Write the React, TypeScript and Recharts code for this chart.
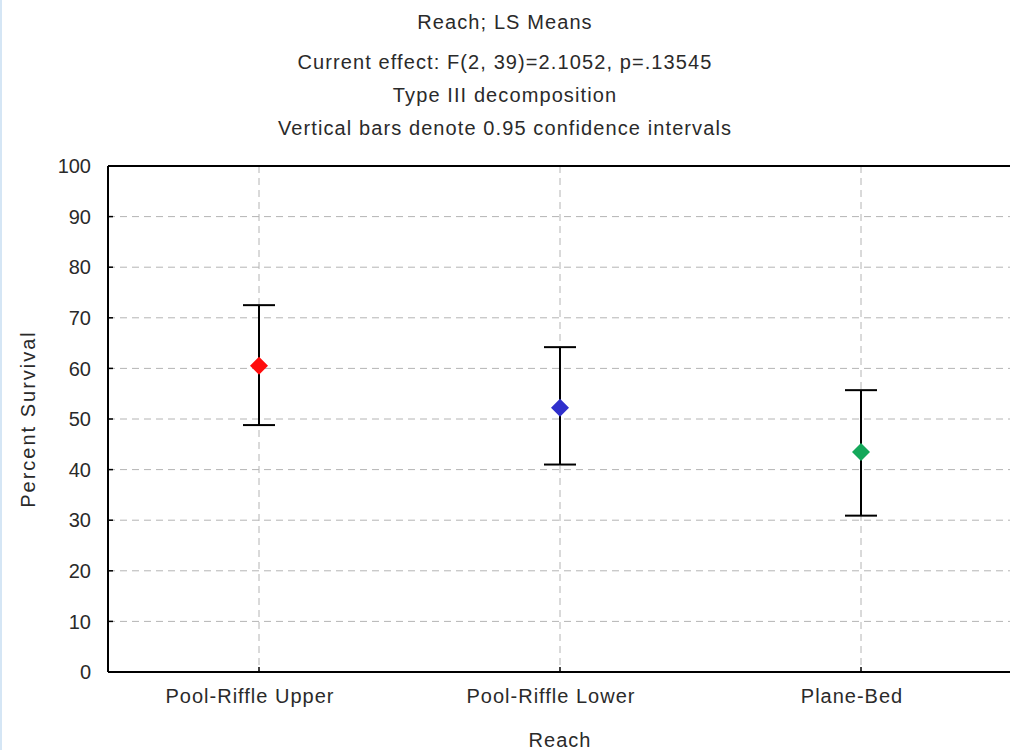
import { ComposedChart, Line, XAxis, YAxis, CartesianGrid, ErrorBar, ReferenceLine } from 'recharts';

const reaches = ['Pool-Riffle Upper', 'Pool-Riffle Lower', 'Plane-Bed'];
const means = [60.5, 52.2, 43.5];
const lowerCI = [48.8, 41.0, 30.9];
const upperCI = [72.5, 64.2, 55.7];
const yTicks = [0, 10, 20, 30, 40, 50, 60, 70, 80, 90, 100];
const titleLines = [
  'Reach; LS Means',
  'Current effect: F(2, 39)=2.1052, p=.13545',
  'Type III decomposition',
  'Vertical bars denote 0.95 confidence intervals',
];
const markerColors = ['#ff0d0d', '#2f2fcc', '#14a85a'];

const data = reaches.map((reach, i) => ({
  reach,
  mean: means[i],
  ci: [means[i] - lowerCI[i], upperCI[i] - means[i]],
}));

const font = '"Liberation Sans", Arial, sans-serif';
const titleTops = [11, 51, 84, 117];
const textColor = '#2a2a2a';

// diamond marker, coloured per reach
const Diamond = (props: any) => {
  const { cx, cy, index } = props;
  const r = 9;
  return (
    <path
      key={`d-${index}`}
      d={`M${cx},${cy - r}L${cx + r},${cy}L${cx},${cy + r}L${cx - r},${cy}Z`}
      fill={markerColors[index]}
    />
  );
};

export default function App() {
  return (
    <div
      style={{
        position: 'fixed',
        left: 0,
        top: 0,
        width: 1010,
        height: 750,
        overflow: 'hidden',
        background: '#fff',
        fontFamily: font,
      }}
    >
      <div style={{ position: 'absolute', left: 0, top: 0, width: 2, height: 750, background: '#d5e6f5' }} />
      {titleLines.map((t, i) => (
        <div
          key={t}
          style={{
            position: 'absolute',
            left: 0,
            width: 1010,
            top: titleTops[i],
            textAlign: 'center',
            fontSize: 20,
            lineHeight: '23px',
            letterSpacing: 1.1,
            color: textColor,
          }}
        >
          {t}
        </div>
      ))}
      <ComposedChart
        width={1030}
        height={750}
        data={data}
        margin={{ top: 166, right: 0, bottom: 0, left: 0 }}
        style={{ fontFamily: font }}
      >
        <CartesianGrid stroke="#b4b4b4" strokeDasharray="7 5" />
        <XAxis
          dataKey="reach"
          type="category"
          height={78}
          padding={{ left: 151, right: 151 }}
          axisLine={{ stroke: '#000', strokeWidth: 2 }}
          tickLine={{ stroke: '#000', strokeWidth: 1.5 }}
          tickSize={-5}
          tickMargin={22}
          tick={{ fill: textColor, fontSize: 20, letterSpacing: 1, dx: -9 }}
          label={{ value: 'Reach', position: 'insideBottom', offset: 3, fill: textColor, fontSize: 20, letterSpacing: 1 }}
        />
        <YAxis
          type="number"
          domain={[0, 100]}
          ticks={yTicks}
          width={108}
          axisLine={{ stroke: '#000', strokeWidth: 2 }}
          tickLine={{ stroke: '#000', strokeWidth: 1.5 }}
          tickSize={-5}
          tickMargin={22}
          tick={{ fill: textColor, fontSize: 20 }}
          label={{
            value: 'Percent Survival',
            angle: -90,
            position: 'insideLeft',
            offset: 28,
            style: { textAnchor: 'middle' },
            fill: textColor,
            fontSize: 20,
            letterSpacing: 2,
          }}
        />
        <YAxis
          yAxisId="right"
          orientation="right"
          type="number"
          domain={[0, 100]}
          ticks={yTicks}
          width={18}
          axisLine={{ stroke: '#000', strokeWidth: 2 }}
          tickLine={{ stroke: '#000', strokeWidth: 1.5 }}
          tickSize={-4}
          tickFormatter={() => ''}
        />
        <ReferenceLine y={100} stroke="#000" strokeWidth={2} />
        <Line
          dataKey="mean"
          stroke="none"
          dot={(p: any) => <Diamond {...p} />}
          activeDot={false}
          isAnimationActive={false}
        >
          <ErrorBar dataKey="ci" direction="y" width={16} stroke="#000" strokeWidth={2} />
        </Line>
      </ComposedChart>
    </div>
  );
}
